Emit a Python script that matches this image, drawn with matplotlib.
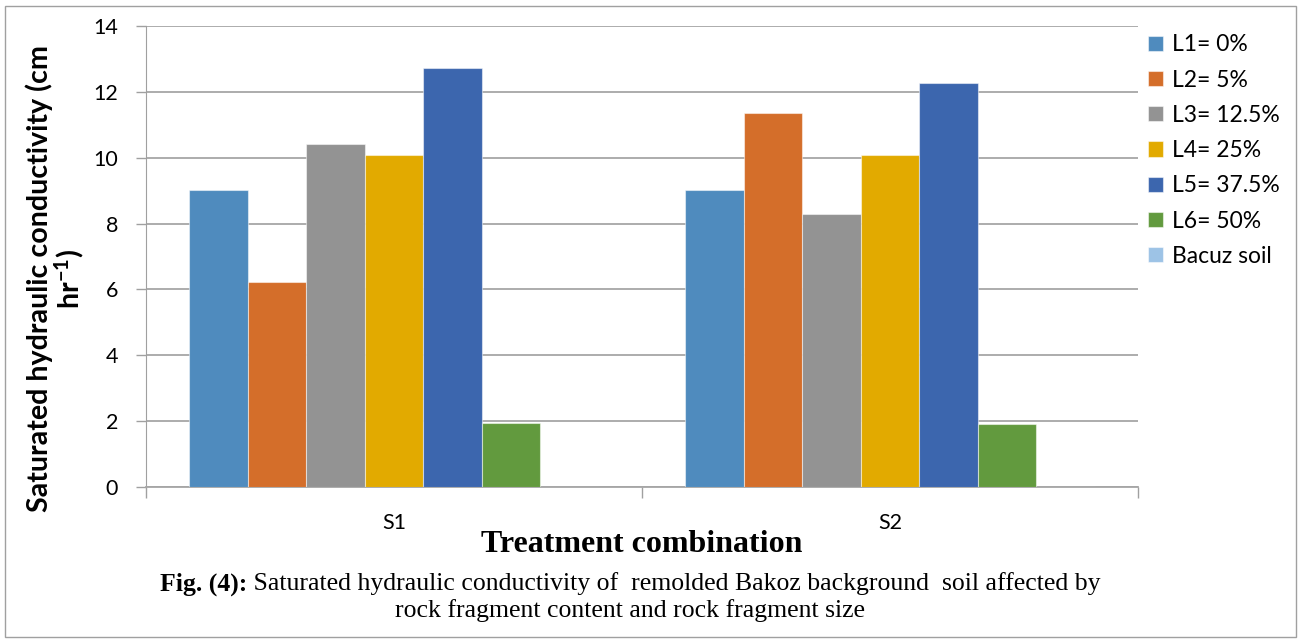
import matplotlib.pyplot as plt
from matplotlib.patches import Rectangle
import numpy as np

# data
groups = ["S1", "S2"]
series = ["L1= 0%", "L2= 5%", "L3= 12.5%", "L4= 25%", "L5= 37.5%", "L6= 50%", "Bacuz soil"]
s1_vals = [9.02, 6.24, 10.43, 10.08, 12.72, 1.93, 0.0]
s2_vals = [9.02, 11.35, 8.28, 10.08, 12.27, 1.91, 0.0]
colors = ["#4F8BBE", "#D46E2A", "#939393", "#E2AA00", "#3C66AE", "#629A3E", "#9DC3E6"]

ui_font = "Lato"
serif_font = "Liberation Serif"
plt.rcParams["mathtext.fontset"] = "custom"
plt.rcParams["mathtext.rm"] = "Lato:bold"
plt.rcParams["mathtext.default"] = "rm"

W, H = 1304, 641
fig = plt.figure(figsize=(W / 100, H / 100), dpi=100)
ax = fig.add_axes([146 / W, 1 - 487 / H, (1138 - 146) / W, (487 - 26) / H])

x = np.arange(len(groups))
width = 0.118
for i, name in enumerate(series):
    vals = [s1_vals[i], s2_vals[i]]
    ax.bar(x + (i - 3) * width, vals, width, color=colors[i], label=name,
           edgecolor=(1, 1, 1, 0.5), linewidth=0.8, zorder=3)

ax.set_xlim(-0.5, 1.5)
ax.set_ylim(0, 14)
ax.set_yticks(range(0, 15, 2))
ax.set_xticks(x)
ax.set_xticklabels(groups, fontsize=15.5, fontfamily=ui_font)
ax.set_xticks([-0.5, 0.5, 1.5], minor=True)
ax.tick_params(axis="x", which="major", length=0, pad=19)
ax.tick_params(axis="x", which="minor", length=8, color="#A0A0A0", width=1)
ax.tick_params(axis="y", length=7, color="#A0A0A0", width=1, labelsize=15.5, pad=13)
for lbl in ax.get_yticklabels():
    lbl.set_fontfamily(ui_font)

ax.grid(axis="y", color="#A6A6A6", linewidth=1.3, zorder=0)
for side in ["top", "right"]:
    ax.spines[side].set_visible(False)
ax.spines["left"].set_color("#A0A0A0")
ax.spines["bottom"].set_color("#A6A6A6")
ax.spines["bottom"].set_linewidth(1.3)

ax.set_ylabel("Saturated hydraulic conductivity (cm\nhr$^{-1}$)", fontsize=20.6,
              fontweight="bold", fontfamily=ui_font, linespacing=1.0, labelpad=5)
ax.yaxis.label.set_y((487 - 279) / 461)

leg = ax.legend(loc="upper left", bbox_to_anchor=(1.0, 1.003), frameon=False,
                prop={"family": ui_font, "size": 16.5}, handlelength=0.65,
                handleheight=0.65, handletextpad=0.4, labelspacing=0.62,
                borderaxespad=0.03)

fig.text(641.5 / W, 1 - 545 / H, "Treatment combination", ha="center", va="center",
         fontsize=23, fontweight="bold", fontfamily=serif_font)

# caption: bold prefix then regular text, centred as one line
cap_y1 = 1 - 584 / H
cap_y2 = 1 - 611 / H
cap_size = 18.5
cap_bold = fig.text(0, cap_y1, "Fig. (4):", ha="left", va="center",
                    fontsize=cap_size, fontweight="bold", fontfamily=serif_font)
cap_rest = fig.text(0, cap_y1,
                    " Saturated hydraulic conductivity of  remolded Bakoz background  soil affected by",
                    ha="left", va="center", fontsize=cap_size, fontfamily=serif_font)
fig.canvas.draw()
rend = fig.canvas.get_renderer()
wb = cap_bold.get_window_extent(rend).width
wr = cap_rest.get_window_extent(rend).width
x0 = 630 - (wb + wr) / 2
cap_bold.set_x(x0 / W)
cap_rest.set_x((x0 + wb) / W)
fig.text(630 / W, cap_y2, "rock fragment content and rock fragment size",
         ha="center", va="center", fontsize=cap_size, fontfamily=serif_font)

fig.patches.append(Rectangle((5 / W, 4 / H), 1291 / W, 631 / H,
                             transform=fig.transFigure, fill=False,
                             edgecolor="#A0A0A0", linewidth=1))

fig.savefig("out.png", dpi=100)
